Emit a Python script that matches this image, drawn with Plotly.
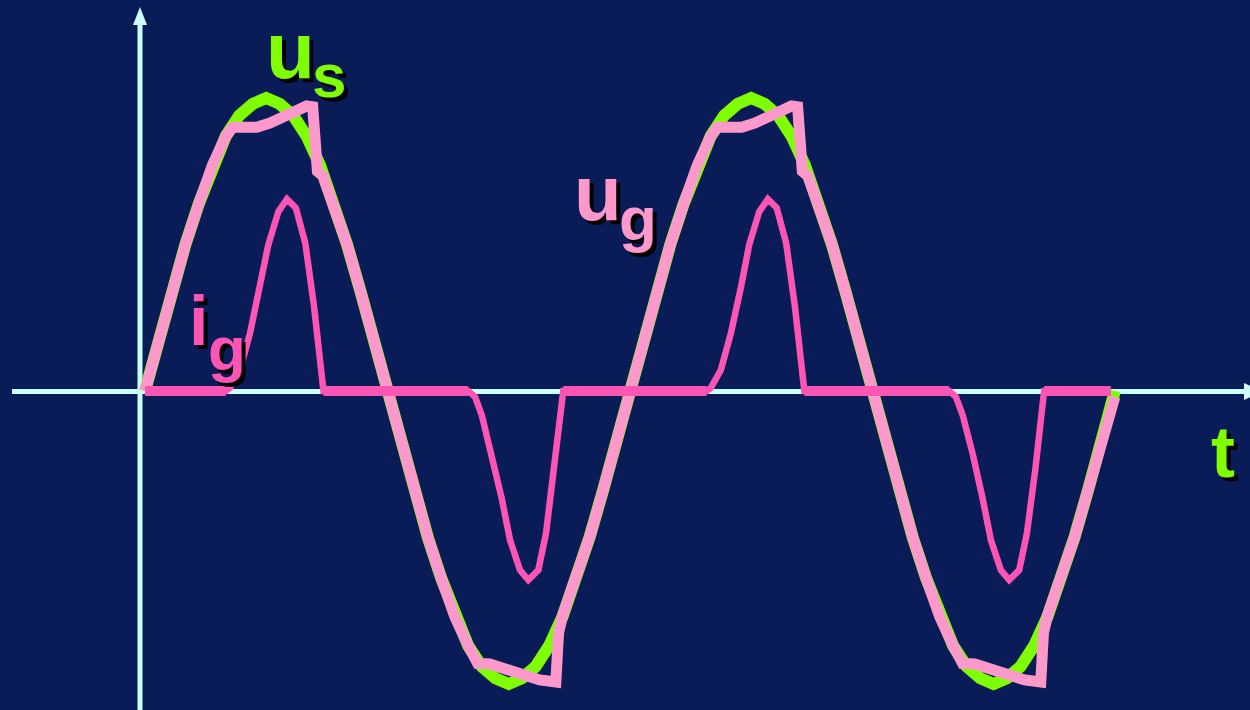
import plotly.graph_objects as go

# ---------------- data (phase in degrees, values relative to amplitude) -------------
us_t = list(range(0, 721, 10))
us_v = [0.00, 0.17, 0.34, 0.50, 0.64, 0.77, 0.87, 0.94, 0.98, 1.00, 0.98, 0.94, 0.87, 0.77, 0.64, 0.50, 0.34, 0.17,
        0.00, -0.17, -0.34, -0.50, -0.64, -0.77, -0.87, -0.94, -0.98, -1.00, -0.98, -0.94, -0.87, -0.77, -0.64, -0.50, -0.34, -0.17,
        0.00, 0.17, 0.34, 0.50, 0.64, 0.77, 0.87, 0.94, 0.98, 1.00, 0.98, 0.94, 0.87, 0.77, 0.64, 0.50, 0.34, 0.17,
        0.00, -0.17, -0.34, -0.50, -0.64, -0.77, -0.87, -0.94, -0.98, -1.00, -0.98, -0.94, -0.87, -0.77, -0.64, -0.50, -0.34, -0.17,
        0.00]

ug_t = [0, 10, 20, 30, 40, 50, 60, 65, 75, 83, 93, 103, 113, 120, 124.5, 128, 132, 140, 150, 160, 170,
        180, 190, 200, 210, 220, 230, 240, 247, 256, 268, 281, 293, 305, 307, 310, 320, 330, 340, 350,
        360, 370, 380, 390, 400, 410, 420, 425, 435, 443, 453, 463, 473, 480, 484.5, 488, 492, 500, 510, 520, 530,
        540, 550, 560, 570, 580, 590, 600, 607, 616, 628, 641, 653, 665, 667, 670, 680, 690, 700, 710, 720]
ug_v = [0.00, 0.17, 0.34, 0.50, 0.64, 0.77, 0.87, 0.90, 0.90, 0.90, 0.915, 0.936, 0.966, 0.973, 0.970, 0.75, 0.735, 0.64, 0.50, 0.34, 0.17,
        0.00, -0.17, -0.34, -0.50, -0.64, -0.77, -0.87, -0.93, -0.932, -0.949, -0.969, -0.986, -0.993, -0.826, -0.766, -0.643, -0.50, -0.34, -0.17,
        0.00, 0.17, 0.34, 0.50, 0.64, 0.77, 0.87, 0.90, 0.90, 0.90, 0.915, 0.936, 0.966, 0.973, 0.970, 0.75, 0.735, 0.64, 0.50, 0.34, 0.17,
        0.00, -0.17, -0.34, -0.50, -0.64, -0.77, -0.87, -0.93, -0.932, -0.949, -0.969, -0.986, -0.993, -0.826, -0.766, -0.643, -0.50, -0.34, -0.17, -0.02]

ig_t = [0, 60, 63, 70.5, 78, 85.5, 91.5, 99, 105.4, 112, 119, 125.5, 130, 132.5,
        240, 245, 250, 257.4, 264.8, 271, 278.4, 284.6, 292, 297.7, 303.9, 308.1, 310.5,
        417, 420, 427.5, 435, 442.5, 448.5, 456, 462.4, 469, 476, 482.5, 487, 489.5,
        597, 602, 607, 614.4, 621.8, 628, 635.4, 641.6, 649, 654.7, 660.9, 665.1, 667.5, 717]
ig_v = [0, 0, 0.01, 0.072, 0.198, 0.356, 0.498, 0.612, 0.655, 0.625, 0.505, 0.288, 0.106, 0,
        0, -0.02, -0.082, -0.213, -0.366, -0.509, -0.611, -0.645, -0.611, -0.486, -0.27, -0.088, 0,
        0, 0.01, 0.072, 0.198, 0.356, 0.498, 0.612, 0.655, 0.625, 0.505, 0.288, 0.106, 0,
        0, -0.02, -0.082, -0.213, -0.366, -0.509, -0.611, -0.645, -0.611, -0.486, -0.27, -0.088, 0, 0]

# ---------------- style ---------------------------------------------------------------
BG = "#0A1C58"
GREEN = "#80FF00"
PINK = "#FF99CC"
MAGENTA = "#FF55B4"
AXIS = "#CCFFFF"
W, H = 1250, 710

fig = go.Figure()
fig.add_trace(go.Scatter(x=us_t, y=us_v, mode="lines", line=dict(color=GREEN, width=12), hoverinfo="skip"))
fig.add_trace(go.Scatter(x=ug_t, y=ug_v, mode="lines", line=dict(color=PINK, width=11), hoverinfo="skip"))
fig.add_trace(go.Scatter(x=ig_t, y=ig_v, mode="lines", line=dict(color=MAGENTA, width=6.5), hoverinfo="skip"))
# zero-current intervals are drawn heavier
ig_zero = [v if v == 0 else None for v in ig_v]
fig.add_trace(go.Scatter(x=ig_t, y=ig_zero, mode="lines", connectgaps=False,
                         line=dict(color=MAGENTA, width=10), hoverinfo="skip"))

# pixel helpers for axes decorations (paper coords)
def px(x):
    return x / W
def py(y):
    return 1 - y / H

shapes = [
    dict(type="line", xref="paper", yref="paper", x0=px(12), x1=px(1246), y0=py(391.5), y1=py(391.5),
         line=dict(color=AXIS, width=5), layer="below"),
    dict(type="path", xref="paper", yref="paper", fillcolor=AXIS, line=dict(width=0), layer="below",
         path=f"M {px(1244)} {py(383)} L {px(1262)} {py(391.5)} L {px(1244)} {py(400)} Z"),
    dict(type="line", xref="paper", yref="paper", x0=px(140), x1=px(140), y0=py(710), y1=py(24),
         line=dict(color=AXIS, width=5), layer="below"),
    dict(type="path", xref="paper", yref="paper", fillcolor=AXIS, line=dict(width=0), layer="below",
         path=f"M {px(133)} {py(25)} L {px(140)} {py(7)} L {px(147)} {py(25)} Z"),
]

FONT = "Liberation Sans, Arial, sans-serif"
SH = "4px 4px 0px #000000"

def label(text, cx, cy, size, color):
    return dict(text=text, xref="paper", yref="paper", x=px(cx), y=py(cy), xanchor="center", yanchor="middle",
                showarrow=False, font=dict(family=FONT, size=size, color=color, weight="bold", shadow=SH))

annotations = [
    label("u", 290, 50, 80, GREEN),
    label("s", 329, 75.5, 62, GREEN),
    label("u", 597.5, 193, 78, PINK),
    label("g", 637.5, 218.5, 62, PINK),
    label("i", 198, 320.7, 70, MAGENTA),
    label("g", 227, 348.5, 62, MAGENTA),
    label("t", 1223, 452, 72, GREEN),
]

# x: pixel = 145 + 1.347*t ; y: pixel = 391 - 293*v
fig.update_layout(
    width=W, height=H, margin=dict(l=0, r=0, t=0, b=0),
    paper_bgcolor=BG, plot_bgcolor=BG, showlegend=False,
    xaxis=dict(range=[-145 / 1.347, (1250 - 145) / 1.347], visible=False, fixedrange=True),
    yaxis=dict(range=[(391 - 710) / 293, 391 / 293], visible=False, fixedrange=True),
    shapes=shapes, annotations=annotations,
)

fig.write_html("out.html", config={"displayModeBar": False},
               post_script="document.body.style.margin='0';document.body.style.overflow='hidden';")
